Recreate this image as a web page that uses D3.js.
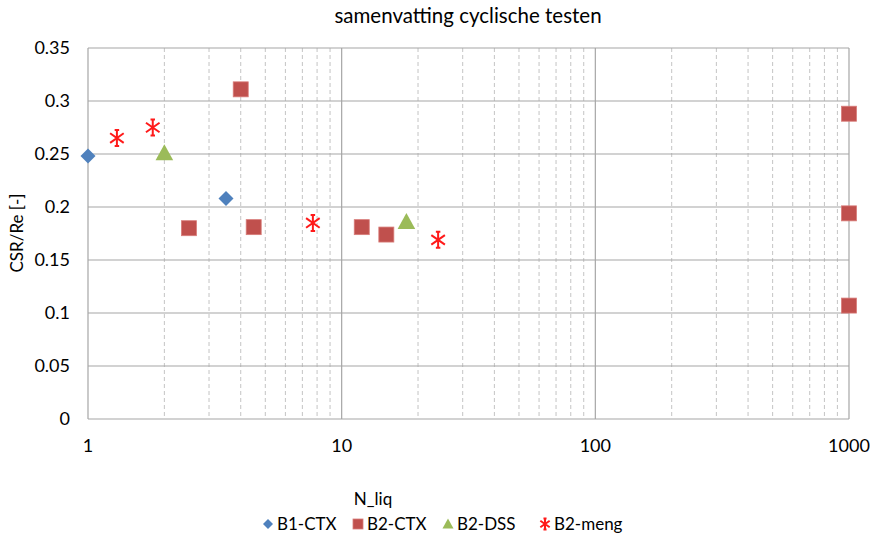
<!DOCTYPE html>
<html>
<head>
<meta charset="utf-8">
<script src="https://cdn.jsdelivr.net/npm/d3@7"></script>
<style>
  body { margin: 0; background: #fff; }
  text { font-family: Lato, "Open Sans", sans-serif; fill: #000; }
</style>
</head>
<body>
<svg width="870" height="537"></svg>
<script>
// series: N_liq and CSR/Re
b1ctxN = [1, 3.5]
b1ctxCsr = [0.248, 0.208]
b2ctxN = [4, 2.5, 4.5, 12, 15, 1000, 1000, 1000]
b2ctxCsr = [0.311, 0.180, 0.181, 0.181, 0.174, 0.288, 0.194, 0.107]
b2dssN = [2, 18]
b2dssCsr = [0.251, 0.186]
b2mengN = [1.3, 1.8, 7.7, 24]
b2mengCsr = [0.265, 0.275, 0.185, 0.169]

yTicks = [0, 0.05, 0.1, 0.15, 0.2, 0.25, 0.3, 0.35]
xTicks = [1, 10, 100, 1000]

series = [
  {name: 'B1-CTX', n: b1ctxN, csr: b1ctxCsr, shape: 'diamond', color: '#4F81BD'},
  {name: 'B2-CTX', n: b2ctxN, csr: b2ctxCsr, shape: 'square', color: '#C0504D'},
  {name: 'B2-DSS', n: b2dssN, csr: b2dssCsr, shape: 'triangle', color: '#9BBB59'},
  {name: 'B2-meng', n: b2mengN, csr: b2mengCsr, shape: 'star', color: '#FF1A1A'}
]

let svg = d3.select('svg')
let plotL = 88, plotR = 849, plotT = 48, plotB = 419

let x = d3.scaleLog().domain([1, 1000]).range([plotL, plotR])
let y = d3.scaleLinear().domain([0, 0.35]).range([plotB, plotT])

// minor dashed grid
let minor = []
for (let d = 1; d < 1000; d *= 10)
  for (let k = 2; k <= 9; k++) minor.push(d * k)

svg.append('g').selectAll('line').data(minor).enter().append('line')
  .attr('x1', d => x(d)).attr('x2', d => x(d))
  .attr('y1', plotT).attr('y2', plotB)
  .style('stroke', '#c4c4c4').style('stroke-width', 1).style('stroke-dasharray', '4,3')

svg.append('g').selectAll('line').data(xTicks).enter().append('line')
  .attr('x1', d => x(d)).attr('x2', d => x(d))
  .attr('y1', plotT).attr('y2', plotB)
  .style('stroke', '#a6a6a6').style('stroke-width', 1.2)

svg.append('g').selectAll('line').data(yTicks).enter().append('line')
  .attr('x1', plotL).attr('x2', plotR)
  .attr('y1', d => y(d)).attr('y2', d => y(d))
  .style('stroke', '#a6a6a6').style('stroke-width', 1.2)

// tick labels
svg.append('g').selectAll('text').data(yTicks).enter().append('text')
  .attr('x', 70).attr('y', d => y(d)).attr('dy', '0.35em')
  .attr('text-anchor', 'end').attr('font-size', 18)
  .text(d => d)

svg.append('g').selectAll('text').data(xTicks).enter().append('text')
  .attr('x', d => x(d)).attr('y', 446).attr('dy', '0.35em')
  .attr('text-anchor', 'middle').attr('font-size', 18)
  .text(d => d)

svg.append('text').attr('x', 468).attr('y', 16).attr('dy', '0.35em')
  .attr('text-anchor', 'middle').attr('font-size', 20.5)
  .text('samenvatting cyclische testen')

svg.append('text').attr('x', 373).attr('y', 499).attr('dy', '0.35em')
  .attr('text-anchor', 'middle').attr('font-size', 17)
  .text('N_liq')

svg.append('text').attr('transform', 'translate(17,233) rotate(-90)').attr('dy', '0.35em')
  .attr('text-anchor', 'middle').attr('font-size', 17)
  .text('CSR/Re [-]')

function drawMarker(g, shape, color, s) {
  if (shape == 'diamond') {
    g.append('path').attr('d', `M0,${-s*0.5}L${s*0.5},0L0,${s*0.5}L${-s*0.5},0Z`).style('fill', color)
  } else if (shape == 'square') {
    g.append('rect').attr('x', -s/2).attr('y', -s/2).attr('width', s).attr('height', s)
      .style('fill', color).style('stroke', '#d87c79').style('stroke-width', 0.8)
  } else if (shape == 'triangle') {
    g.append('path').attr('d', `M0,${-s*0.55}L${s*0.55},${s*0.45}L${-s*0.55},${s*0.45}Z`).style('fill', color)
  } else {
    let r = s * 0.5, c = r * 0.28
    g.append('path')
      .attr('d', `M0,${-r}L0,${r}M${-r*0.85},${-r*0.6}L${r*0.85},${r*0.6}M${-r*0.85},${r*0.6}L${r*0.85},${-r*0.6}` +
                 `M${-c},${-r}L${c},${-r}M${-c},${r}L${c},${r}`)
      .style('stroke', color).style('stroke-width', 2).style('fill', 'none')
  }
}

let sizes = {diamond: 15, square: 15, triangle: 16, star: 16}

series.forEach(s => {
  let pts = s.n.map((n, i) => ({n: n, csr: s.csr[i]}))
  let g = svg.append('g').selectAll('g').data(pts).enter().append('g')
    .attr('transform', d => `translate(${x(d.n)},${y(d.csr)})`)
  g.each(function() { drawMarker(d3.select(this), s.shape, s.color, sizes[s.shape]) })
})

// legend
let legendX = [268, 358, 448, 545]
let lg = svg.append('g').selectAll('g').data(series).enter().append('g')
  .attr('transform', (d, i) => `translate(${legendX[i]},524)`)
lg.each(function(d) { drawMarker(d3.select(this), d.shape, d.color, d.shape == 'star' ? 11 : 10) })
lg.append('text').attr('x', 9).attr('dy', '0.35em').attr('font-size', 17).text(d => d.name)
</script>
</body>
</html>
